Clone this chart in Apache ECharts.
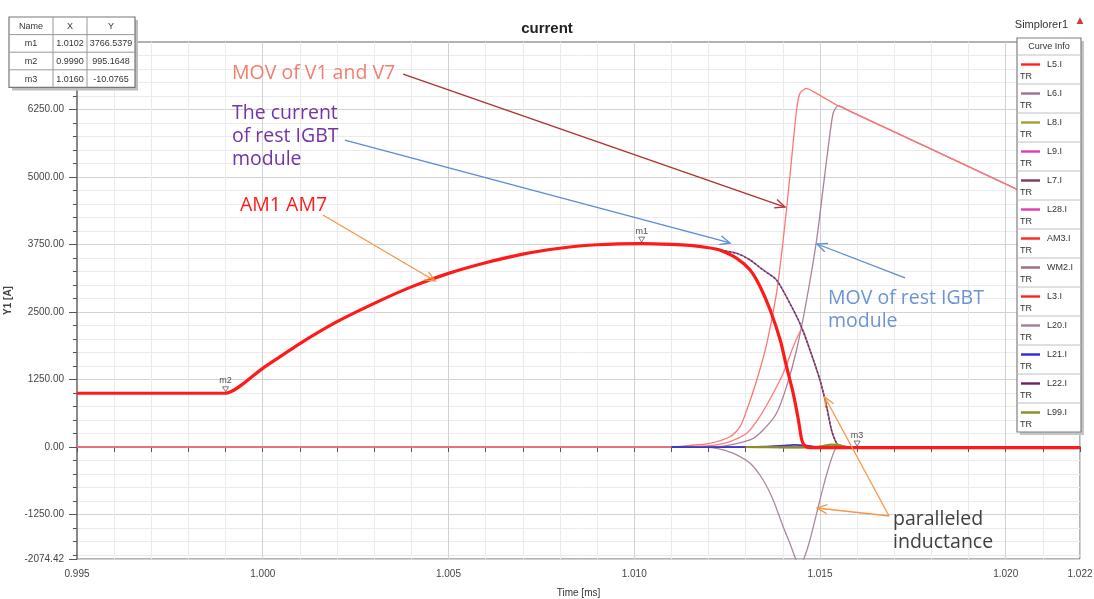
<!DOCTYPE html>
<html>
<head>
<meta charset="utf-8">
<title>current</title>
<script src="https://cdn.jsdelivr.net/npm/echarts@6/dist/echarts.min.js"></script>
<style>
html, body { margin: 0; padding: 0; background: #fff; }
#chart { width: 1094px; height: 599px; }
</style>
</head>
<body>
<div id="chart"></div>
<script>
// ---- axis ticks ----
const xLabelValues = [0.995, 1.000, 1.005, 1.010, 1.015, 1.020, 1.022];
const xMinorValues = [0.996, 0.997, 0.998, 0.999, 1.001, 1.002, 1.003, 1.004, 1.006, 1.007, 1.008, 1.009,
                      1.011, 1.012, 1.013, 1.014, 1.016, 1.017, 1.018, 1.019, 1.021];
const yLabelValues = [-2074.42, -1250, 0, 1250, 2500, 3750, 5000, 6250];
const yMinorValues = [-2000, -1750, -1500, -1000, -750, -500, -250, 250, 500, 750, 1000, 1500, 1750, 2000,
                      2250, 2750, 3000, 3250, 3500, 4000, 4250, 4500, 4750, 5250, 5500, 5750, 6000,
                      6500, 6750, 7000, 7250];

// ---- curves: [time ms, current A] ----
const am3 = [[0.995, 995], [0.9989, 995], [0.999, 995.16], [1.0000, 1457], [1.0010, 1915], [1.0020, 2320], [1.0030, 2660],
  [1.0040, 2965], [1.0050, 3215], [1.0060, 3412], [1.0070, 3572], [1.0080, 3680], [1.0090, 3745],
  [1.0102, 3766.54], [1.0110, 3752], [1.0115, 3732], [1.0120, 3690], [1.0123, 3648], [1.01276, 3494],
  [1.01312, 3278], [1.01339, 2969], [1.01366, 2537], [1.01393, 1981], [1.01410, 1487], [1.01428, 994],
  [1.01442, 500], [1.01451, 130], [1.01460, 18], [1.01473, -10], [1.0160, -10.08], [1.022, -10]];
const l7 = [[1.0102, 3766.54], [1.0110, 3752], [1.0115, 3732], [1.0120, 3690], [1.0123, 3648], [1.01276, 3586],
  [1.01312, 3463], [1.01347, 3278], [1.01383, 3093], [1.01419, 2661], [1.01446, 2290], [1.01473, 1796],
  [1.01500, 1241], [1.01518, 746], [1.01531, 315], [1.01545, 68], [1.01558, 5], [1.0160, 0], [1.022, 0]];
const l22 = [[1.0102, 3766.54], [1.0110, 3752], [1.0115, 3732], [1.0120, 3690], [1.0123, 3648], [1.01276, 3586],
  [1.01312, 3463], [1.01347, 3278], [1.01383, 3093], [1.01419, 2661], [1.01446, 2290], [1.01473, 1796],
  [1.01500, 1241], [1.01518, 746], [1.01531, 315], [1.01545, 68], [1.01558, 5], [1.0160, 0], [1.022, 0]];
const l5 = [[0.995, 0], [1.0110, 0], [1.0115, 30], [1.0120, 62], [1.01258, 190], [1.01285, 376],
  [1.01303, 685], [1.01330, 1241], [1.01357, 1920], [1.01383, 2846], [1.01401, 3833], [1.01419, 5006],
  [1.01437, 6241], [1.01446, 6549], [1.01464, 6642], [1.01482, 6580], [1.01545, 6333], [1.0158, 6221],
  [1.02025, 4790], [1.022, 4228]];
const l3 = [[1.0110, 0], [1.0118, 15], [1.01222, 40], [1.01258, 100], [1.01303, 253], [1.01338, 561],
  [1.01374, 994], [1.01401, 1364], [1.01428, 1857], [1.01446, 2135], [1.01451, 2198], [1.01473, 1796],
  [1.01500, 1241], [1.01518, 746], [1.01531, 315], [1.01545, 68], [1.01558, 5], [1.0160, 0], [1.022, 0]];
const l6 = [[1.0110, 0], [1.0122, 5], [1.01312, 130], [1.01347, 315], [1.01383, 624], [1.01410, 1117],
  [1.01437, 1796], [1.01464, 2722], [1.01491, 3833], [1.01509, 4821], [1.01527, 5809], [1.01536, 6190],
  [1.01549, 6320], [1.0158, 6221], [1.02025, 4790], [1.022, 4228]];
const l20 = [[1.0110, 0], [1.01158, 5], [1.01222, -25], [1.01267, -117], [1.01312, -302], [1.01347, -611],
  [1.01374, -981], [1.01401, -1476], [1.01419, -1784], [1.01434, -2061], [1.01445, -2200], [1.01457, -2061],
  [1.01473, -1722], [1.01491, -1228], [1.01509, -735], [1.01527, -302], [1.01540, -56], [1.01549, -12],
  [1.0157, 0], [1.022, 0]];
const l21 = [[1.0110, 0], [1.0125, -3], [1.0135, 5], [1.0140, 25], [1.0143, 40], [1.0146, 30], [1.0149, 0],
  [1.0153, -15], [1.0156, 0], [1.0160, 0]];
const l8 = [[1.0130, 0], [1.0140, -6], [1.0146, -8], [1.0150, 10], [1.0153, 50], [1.0155, 45], [1.0157, 0], [1.0160, 0]];
const l99 = [[1.0130, 0], [1.0137, -8], [1.0145, -12], [1.0150, 5], [1.0153, 40], [1.0156, 20], [1.0158, 0], [1.0160, 0]];
const l9 = [[0.995, 0], [1.022, 0]];
const l28 = [[0.995, 0], [1.022, 0]];
const wm2 = [[0.995, 0], [1.022, 0]];

// ---- curve list (legend order) ----
const curveNames = ['L5.I', 'L6.I', 'L8.I', 'L9.I', 'L7.I', 'L28.I', 'AM3.I', 'WM2.I', 'L3.I', 'L20.I', 'L21.I', 'L22.I', 'L99.I'];
const curveData = [l5, l6, l8, l9, l7, l28, am3, wm2, l3, l20, l21, l22, l99];
const curveColors = ['#ff2020', '#a0708f', '#a0a030', '#e23cb0', '#7a3a62', '#e23cb0', '#ff2424',
                     '#9a6a8c', '#ff2020', '#a87a98', '#2a2ae0', '#6a1f6a', '#8c8c20'];
// line colour on the plot, width, dash, stacking
const curveStyle = {
  'L5.I':  { color: '#ff7676', width: 1.3, z: 10 },
  'L6.I':  { color: '#a8809c', width: 1.3, z: 8 },
  'L8.I':  { color: '#a0a030', width: 1.8, z: 13 },
  'L9.I':  { color: '#e23cb0', width: 1.2, z: 3 },
  'L7.I':  { color: '#9a6a8c', width: 1.6, z: 11 },
  'L28.I': { color: '#e23cb0', width: 1.2, z: 3 },
  'AM3.I': { color: '#ff1a1a', width: 3.2, z: 15 },
  'WM2.I': { color: '#9a6a8c', width: 1.2, z: 3 },
  'L3.I':  { color: '#ff7a7a', width: 1.3, z: 9 },
  'L20.I': { color: '#ab88a2', width: 1.3, z: 7 },
  'L21.I': { color: '#3a3ac8', width: 1.8, z: 12 },
  'L22.I': { color: '#6a1f6a', width: 1.2, z: 12, type: [2, 2] },
  'L99.I': { color: '#8c8c20', width: 1.8, z: 13 }
};

// ---- markers ----
const markerNames = ['m1', 'm2', 'm3'];
const markerX = [1.0102, 0.9990, 1.0160];
const markerY = [3766.5379, 995.1648, -10.0765];

// ---- annotations ----
const noteTexts = ['MOV of V1 and V7', 'The current\nof rest IGBT\nmodule', 'AM1 AM7', 'MOV of rest IGBT\nmodule', 'paralleled\ninductance'];
const noteArrows = [
  { from: [1.00378, 6907], to: [1.01406, 4444], color: '#b03030' },
  { from: [1.00221, 5685], to: [1.01258, 3778], color: '#5b8bd8' },
  { from: [1.00162, 4296], to: [1.00464, 3074], color: '#f79646' },
  { from: [1.01729, 3130], to: [1.01492, 3759], color: '#5b8bd8' },
  { from: [1.01686, -1278], to: [1.01513, 926], color: '#f79646' },
  { from: [1.01686, -1278], to: [1.01492, -1130], color: '#f79646' }
];

const FONT = '"Liberation Sans", Arial, sans-serif';
const NOTE_FONT = '"Open Sans", "Noto Sans", sans-serif';

const chart = echarts.init(document.getElementById('chart'), null, { renderer: 'canvas' });

const lineSeries = curveNames.map((name, i) => {
  const st = curveStyle[name];
  return {
    name: name,
    type: 'line',
    data: curveData[i],
    showSymbol: false,
    symbol: 'none',
    smooth: 0.25,
    z: st.z,
    clip: true,
    animation: false,
    lineStyle: { color: st.color, width: st.width, type: st.type || 'solid' },
    itemStyle: { color: curveColors[i] }
  };
});

const markerSeries = {
  name: 'markers',
  type: 'scatter',
  data: markerNames.map((n, i) => ({ name: n, value: [markerX[i], markerY[i]] })),
  symbol: 'path://M0,0 L10,0 L5,8 Z',
  symbolSize: [6, 5],
  symbolOffset: [0, -4],
  z: 20,
  animation: false,
  itemStyle: { color: 'rgba(255,255,255,0.85)', borderColor: '#333', borderWidth: 0.8 },
  label: {
    show: true, position: 'top', distance: 1,
    formatter: p => p.name, fontSize: 9, color: '#222', fontFamily: FONT
  }
};

chart.setOption({
  animation: false,
  backgroundColor: '#ffffff',
  title: {
    text: 'current', left: 'center', top: 16,
    textStyle: { fontSize: 15, fontWeight: 'bold', color: '#222', fontFamily: FONT }
  },
  grid: {
    left: 77, right: 14, top: 42, bottom: 40, show: true,
    containLabel: false, outerBoundsMode: 'none',
    borderColor: '#666', borderWidth: 1, backgroundColor: 'transparent'
  },
  xAxis: [{
    type: 'value', min: 0.995, max: 1.022,
    name: 'Time [ms]', nameLocation: 'middle', nameGap: 29,
    nameTextStyle: { fontSize: 10, color: '#333', fontFamily: FONT },
    axisLine: { show: true, lineStyle: { color: '#8a8a8a', width: 2 } },
    axisTick: { show: true, length: 5, customValues: xLabelValues, lineStyle: { color: '#555' } },
    axisLabel: { show: true, customValues: xLabelValues, margin: 10, fontSize: 10, color: '#444', fontFamily: FONT,
                 formatter: v => v.toFixed(3) },
    splitLine: { show: true, lineStyle: { color: '#d2d2d2', width: 1 } }
  }, {
    type: 'value', min: 0.995, max: 1.022, position: 'bottom',
    axisLine: { show: false },
    axisTick: { show: true, length: 5, customValues: xMinorValues, lineStyle: { color: '#555' } },
    axisLabel: { show: false },
    splitLine: { show: true, lineStyle: { color: '#ebebeb', width: 1 } }
  }],
  yAxis: [{
    type: 'value', min: -2074.42, max: 7500,
    name: 'Y1 [A]', nameLocation: 'middle', nameGap: 53, nameRotate: 90,
    nameTextStyle: { fontSize: 10, color: '#444', fontWeight: 'bold', fontFamily: FONT },
    axisLine: { show: true, lineStyle: { color: '#8a8a8a', width: 2 } },
    axisTick: { show: true, length: 8, customValues: yLabelValues, lineStyle: { color: '#555' } },
    axisLabel: { show: true, customValues: yLabelValues, margin: 13, fontSize: 10, color: '#444', fontFamily: FONT,
                 formatter: v => v.toFixed(2) },
    splitLine: { show: true, lineStyle: { color: '#d2d2d2', width: 1 } }
  }, {
    type: 'value', min: -2074.42, max: 7500, position: 'left',
    axisLine: { show: false },
    axisTick: { show: true, length: 4, customValues: yMinorValues, lineStyle: { color: '#555' } },
    axisLabel: { show: false },
    splitLine: { show: true, lineStyle: { color: '#ebebeb', width: 1 } }
  }],
  series: lineSeries.concat([markerSeries])
});

// ---- overlays: marker table, curve info box, notes ----
function buildGraphics() {
  const els = [];
  const Z = 100;
  const toPx = p => chart.convertToPixel({ gridIndex: 0 }, p);

  // notes: arrows anchored in data space
  noteArrows.forEach(a => {
    const p0 = toPx(a.from), p1 = toPx(a.to);
    const ang = Math.atan2(p1[1] - p0[1], p1[0] - p0[0]);
    const L = 11, spread = 0.42;
    const h1 = [p1[0] - L * Math.cos(ang - spread), p1[1] - L * Math.sin(ang - spread)];
    const h2 = [p1[0] - L * Math.cos(ang + spread), p1[1] - L * Math.sin(ang + spread)];
    els.push({ type: 'line', z: Z, shape: { x1: p0[0], y1: p0[1], x2: p1[0], y2: p1[1] },
               style: { stroke: a.color, lineWidth: 1.3 } });
    els.push({ type: 'polyline', z: Z, shape: { points: [h1, p1, h2] },
               style: { stroke: a.color, lineWidth: 1.3, fill: null } });
  });

  const notePos = [
    { x: 232, y: 62, color: '#f47e6e' },
    { x: 232, y: 102, color: '#7434a8' },
    { x: 240, y: 194, color: '#ff1a1a' },
    { x: 828, y: 287, color: '#6d93d6' },
    { x: 893, y: 508, color: '#404040' }
  ];
  noteTexts.forEach((t, i) => {
    const p = notePos[i];
    els.push({ type: 'text', z: Z, x: p.x, y: p.y,
      style: { text: t, fill: p.color, fontSize: 19.5, fontFamily: NOTE_FONT, lineHeight: 23,
               textAlign: 'left', textVerticalAlign: 'top' } });
  });

  // marker table
  const tx = 9, ty = 17, colW = [44, 34, 48], rowH = 17.6;
  const tw = colW[0] + colW[1] + colW[2], th = rowH * 4;
  els.push({ type: 'rect', z: Z, shape: { x: tx + 3, y: ty + 3, width: tw, height: th }, style: { fill: '#bdbdbd' } });
  els.push({ type: 'rect', z: Z, shape: { x: tx, y: ty, width: tw, height: th }, style: { fill: '#fff', stroke: '#777', lineWidth: 1.2 } });
  const rows = [['Name', 'X', 'Y']].concat(markerNames.map((n, i) => [n, markerX[i].toFixed(4), markerY[i].toFixed(4)]));
  for (let r = 1; r < 4; r++) {
    els.push({ type: 'line', z: Z, shape: { x1: tx, y1: ty + r * rowH, x2: tx + tw, y2: ty + r * rowH }, style: { stroke: '#999', lineWidth: 1 } });
  }
  let cx = tx;
  colW.forEach((w, c) => {
    if (c > 0) els.push({ type: 'line', z: Z, shape: { x1: cx, y1: ty, x2: cx, y2: ty + th }, style: { stroke: '#999', lineWidth: 1 } });
    rows.forEach((row, r) => {
      els.push({ type: 'text', z: Z, x: cx + w / 2, y: ty + r * rowH + rowH / 2 + 0.5,
        style: { text: row[c], fill: '#333', fontSize: 9, fontFamily: FONT, textAlign: 'center', textVerticalAlign: 'middle' } });
    });
    cx += w;
  });

  // product label
  els.push({ type: 'text', z: Z, x: 1068, y: 25,
    style: { text: 'Simplorer1', fill: '#333', fontSize: 11, fontFamily: FONT, textAlign: 'right', textVerticalAlign: 'middle' } });
  els.push({ type: 'text', z: Z, x: 1080, y: 21,
    style: { text: '▲', fill: '#d03a3a', fontSize: 9, fontFamily: '"DejaVu Sans", sans-serif', textAlign: 'center', textVerticalAlign: 'middle' } });

  // curve info box
  const lx = 1017, ly = 38, lw = 64, headH = 17, itemH = 29;
  const lh = headH + itemH * curveNames.length;
  els.push({ type: 'rect', z: Z, shape: { x: lx + 3, y: ly + 3, width: lw, height: lh }, style: { fill: '#c4c4c4' } });
  els.push({ type: 'rect', z: Z, shape: { x: lx, y: ly, width: lw, height: lh }, style: { fill: '#fff', stroke: '#808080', lineWidth: 1.2 } });
  els.push({ type: 'text', z: Z, x: lx + lw / 2, y: ly + headH / 2 + 0.5,
    style: { text: 'Curve Info', fill: '#333', fontSize: 9, fontFamily: FONT, textAlign: 'center', textVerticalAlign: 'middle' } });
  curveNames.forEach((n, i) => {
    const top = ly + headH + i * itemH;
    els.push({ type: 'line', z: Z, shape: { x1: lx, y1: top, x2: lx + lw, y2: top }, style: { stroke: '#c0c0c0', lineWidth: 1 } });
    els.push({ type: 'line', z: Z, shape: { x1: lx + 4, y1: top + 9.5, x2: lx + 23, y2: top + 9.5 }, style: { stroke: curveColors[i], lineWidth: 2.4 } });
    els.push({ type: 'text', z: Z, x: lx + 30, y: top + 9.5,
      style: { text: n, fill: '#333', fontSize: 9, fontFamily: FONT, textAlign: 'left', textVerticalAlign: 'middle' } });
    els.push({ type: 'text', z: Z, x: lx + 3, y: top + 21.5,
      style: { text: 'TR', fill: '#333', fontSize: 9, fontFamily: FONT, textAlign: 'left', textVerticalAlign: 'middle' } });
  });

  chart.setOption({ graphic: { elements: els } });
}
buildGraphics();
</script>
</body>
</html>
